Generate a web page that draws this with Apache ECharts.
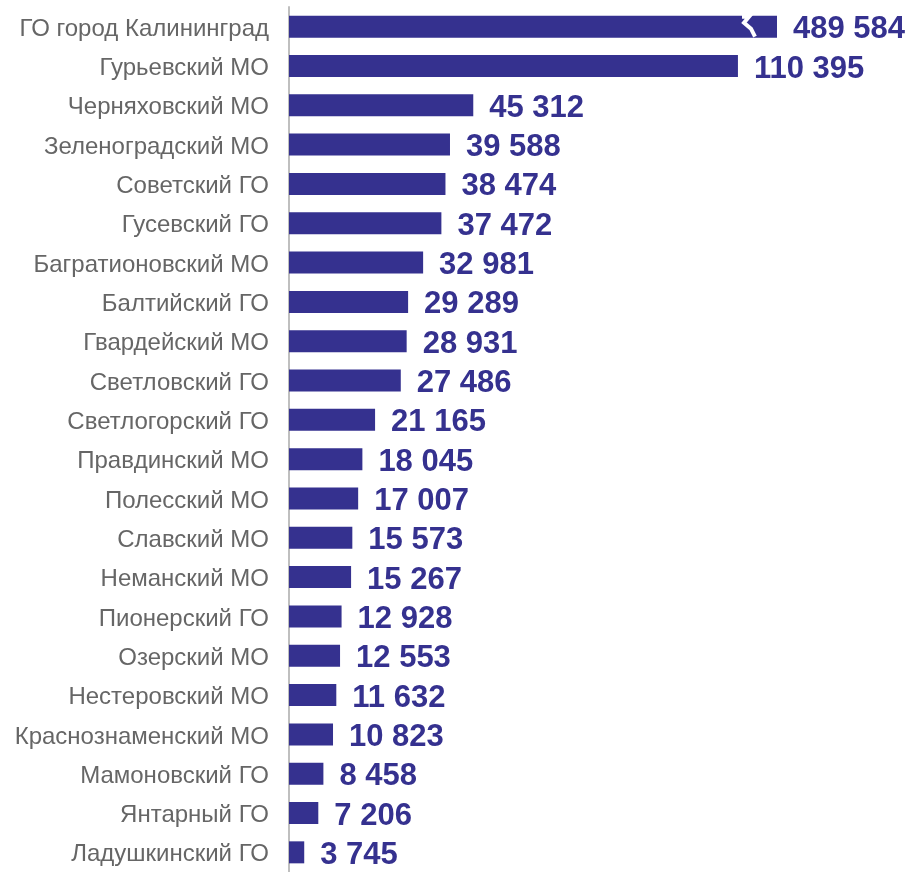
<!DOCTYPE html>
<html><head><meta charset="utf-8">
<script src="https://cdn.jsdelivr.net/npm/echarts@6/dist/echarts.min.js"></script>
<style>html,body{margin:0;padding:0;background:#fff}#c{width:916px;height:872px}</style>
</head><body><div id="c"></div>
<script>
const categories = ['ГО город Калининград','Гурьевский МО','Черняховский МО','Зеленоградский МО','Советский ГО','Гусевский ГО','Багратионовский МО','Балтийский ГО','Гвардейский МО','Светловский ГО','Светлогорский ГО','Правдинский МО','Полесский МО','Славский МО','Неманский МО','Пионерский ГО','Озерский МО','Нестеровский МО','Краснознаменский МО','Мамоновский ГО','Янтарный ГО','Ладушкинский ГО'];
const values = [489584,110395,45312,39588,38474,37472,32981,29289,28931,27486,21165,18045,17007,15573,15267,12928,12553,11632,10823,8458,7206,3745];
const breakCap = 120000;
const axisMax = 150000;

const color = '#35318F';
const fmt = v => String(v).replace(/\B(?=(\d{3})+(?!\d))/g, ' ');
const shown = values.map(v => Math.min(v, breakCap));

const chart = echarts.init(document.getElementById('c'));
chart.setOption({
  animation: false,
  grid: {left: 289, top: 7, height: 870.5, width: 610},
  xAxis: {type: 'value', min: 0, max: axisMax, show: false},
  yAxis: {
    type: 'category', data: categories, inverse: true,
    axisLine: {show: true, lineStyle: {color: '#BFBFBF', width: 2}},
    axisTick: {show: false},
    axisLabel: {
      margin: 20,
      formatter: v => '{a|' + v + '}',
      rich: {a: {color: '#666666', fontFamily: 'Liberation Sans', fontSize: 24, padding: [5, 0, 0, 0]}}
    }
  },
  series: [{
    type: 'bar', data: shown, barWidth: 22,
    itemStyle: {color: color},
    label: {
      show: true, position: 'right', distance: 16, offset: [0, 3],
      formatter: p => fmt(values[p.dataIndex]),
      color: color, fontWeight: 'bold', fontSize: 31,
      fontFamily: 'Liberation Sans'
    }
  }]
});
const p = chart.convertToPixel({xAxisIndex: 0, yAxisIndex: 0}, [breakCap, 0]);
const bx = p[0], by = p[1];
chart.setOption({graphic: [{
  type: 'polyline', z: 100,
  shape: {points: [[bx - 35, by - 10], [bx - 28, by - 10], [bx - 33, by - 4], [bx - 26, by + 2], [bx - 22, by + 10]]},
  style: {stroke: '#ffffff', lineWidth: 4, fill: 'none', lineJoin: 'miter'}
}]});
</script></body></html>
